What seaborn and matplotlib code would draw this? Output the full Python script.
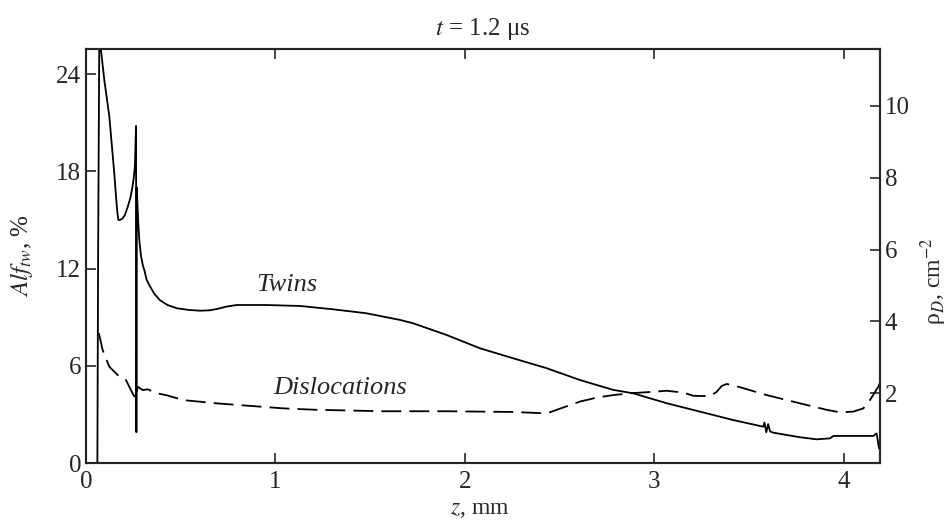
import numpy as np
import pandas as pd
import matplotlib
matplotlib.use("Agg")
import matplotlib.pyplot as plt
import seaborn as sns

# Twins (left axis, Alf_tw, %)
twins_z = [0.060, 0.064, 0.070, 0.075, 0.097, 0.123, 0.149, 0.160, 0.166, 0.171,
           0.180, 0.194, 0.205, 0.220, 0.235, 0.246, 0.252, 0.258, 0.264, 0.266,
           0.268, 0.272, 0.276, 0.281, 0.290, 0.300, 0.308, 0.320, 0.338, 0.360,
           0.390, 0.430, 0.479, 0.540, 0.600, 0.650, 0.690, 0.740, 0.795, 0.953,
           1.130, 1.300, 1.480, 1.657, 1.727, 1.903, 2.079, 2.255, 2.431, 2.607,
           2.783, 2.888, 3.064, 3.240, 3.416, 3.574, 3.580, 3.590, 3.600, 3.610,
           3.627, 3.768, 3.856, 3.926, 3.944, 4.155, 4.172, 4.185]
twins_val = [0.0, 13.0, 25.8, 25.9, 23.6, 21.4, 17.9, 16.2, 15.4, 15.0,
             15.0, 15.1, 15.3, 15.8, 16.4, 17.1, 17.6, 18.3, 20.8, 1.9,
             17.0, 15.8, 14.8, 13.8, 12.8, 12.2, 11.9, 11.3, 10.9, 10.45,
             10.05, 9.75, 9.55, 9.45, 9.40, 9.42, 9.50, 9.65, 9.75, 9.75,
             9.69, 9.49, 9.24, 8.83, 8.62, 7.90, 7.08, 6.46, 5.85, 5.12,
             4.51, 4.30, 3.69, 3.17, 2.65, 2.24, 2.50, 1.90, 2.40, 1.95,
             1.87, 1.59, 1.46, 1.52, 1.67, 1.67, 1.83, 0.90]

# Dislocations (right axis, rho_D, cm^-2)
disl_z = [0.068, 0.088, 0.123, 0.176, 0.211, 0.237, 0.260, 0.273, 0.299, 0.326,
          0.373, 0.422, 0.514, 0.690, 0.865, 1.041, 1.217, 1.393, 1.569, 1.903,
          2.255, 2.431, 2.484, 2.607, 2.695, 2.783, 2.871, 2.960, 3.064, 3.152,
          3.205, 3.293, 3.328, 3.354, 3.381, 3.451, 3.592, 3.768, 3.908, 3.979,
          4.049, 4.102, 4.137, 4.181, 4.190]
disl_val = [3.67, 3.20, 2.74, 2.46, 2.37, 2.09, 1.86, 2.18, 2.09, 2.11,
            2.00, 1.95, 1.81, 1.72, 1.65, 1.58, 1.54, 1.52, 1.50, 1.50,
            1.48, 1.44, 1.54, 1.77, 1.88, 1.95, 2.00, 2.03, 2.07, 2.02,
            1.93, 1.92, 2.04, 2.20, 2.26, 2.17, 1.95, 1.72, 1.54, 1.47,
            1.49, 1.58, 1.81, 2.18, 2.30]

left_ticks = [0, 6, 12, 18, 24]
right_ticks = [2, 4, 6, 8, 10]
x_ticks = [0, 1, 2, 3, 4]

sns.set_style("ticks")
plt.rcParams["font.family"] = ["Liberation Serif", "DejaVu Serif"]
plt.rcParams["mathtext.fontset"] = "stix"
plt.rcParams["axes.linewidth"] = 1.5

twins = pd.DataFrame({"z": twins_z, "v": twins_val})
disl = pd.DataFrame({"z": disl_z, "v": disl_val})

fig = plt.figure(figsize=(9.51, 5.24), dpi=100)
ax = fig.add_axes([86 / 951, 1 - 463 / 524, 794 / 951, 414 / 524])
ax2 = ax.twinx()

sns.lineplot(data=twins, x="z", y="v", ax=ax, color="black", lw=1.3,
             estimator=None, sort=False)
sns.lineplot(data=disl, x="z", y="v", ax=ax2, color="black", lw=1.3,
             estimator=None, sort=False, dashes=False)
ax2.lines[0].set_dashes((11, 4.5))

ax.set_xlim(0, 4.19)
ax.set_ylim(0, 25.55)
ax2.set_ylim(0.06, 11.58)

ax.set_xticks(x_ticks)
ax.set_yticks(left_ticks)
ax2.set_yticks(right_ticks)

ax.tick_params(axis="x", direction="in", top=True, length=7, width=1.2,
               labelsize=18, pad=6)
ax.tick_params(axis="y", direction="in", right=False, length=7, width=1.2,
               labelsize=18)
ax2.tick_params(axis="y", direction="in", length=7, width=1.2, labelsize=18)
for a in (ax, ax2):
    for s in a.spines.values():
        s.set_visible(True)
        s.set_linewidth(1.5)

ax.set_xlabel("$z$, mm", fontsize=17)
ax.xaxis.set_label_coords(0.496, -0.088)
ax.set_ylabel("$Alf_{tw}$, %", fontsize=18)
ax.yaxis.set_label_coords(-0.064, 0.5)
ax2.set_ylabel("ρ$_D$, cm$^{-2}$", fontsize=17, rotation=90)
ax2.yaxis.set_label_coords(1.048, 0.44)

ax.set_title("$t$ = 1.2 μs", fontsize=18, pad=10)

ax.text(1.06, 11.0, "Twins", fontsize=19, style="italic", ha="center", va="center")
ax.text(1.34, 4.65, "Dislocations", fontsize=19, style="italic", ha="center", va="center")

fig.savefig("out.png", dpi=100)
